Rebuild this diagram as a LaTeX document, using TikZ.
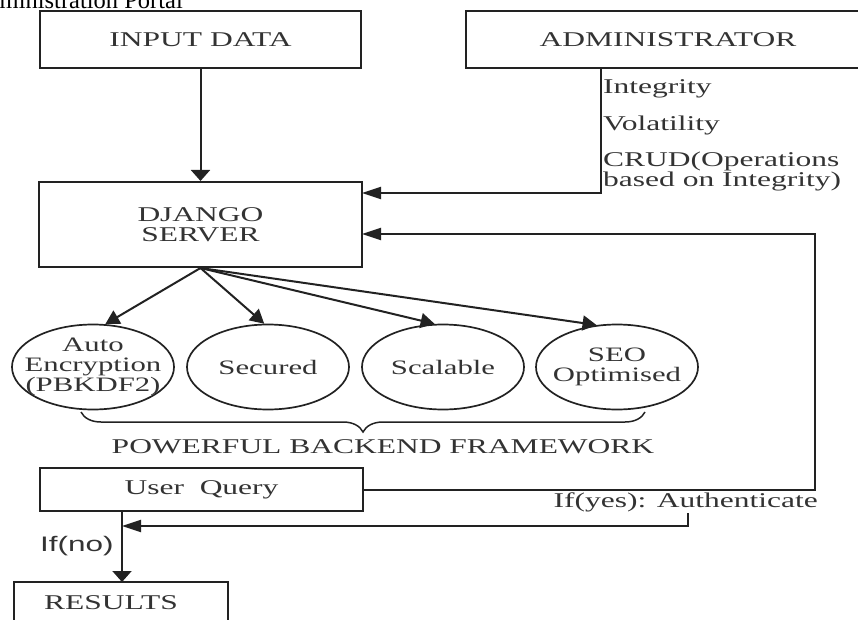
\documentclass[tikz,border=0pt]{standalone}
\usepackage{fontspec}
\setmainfont[FakeStretch=1.5]{Liberation Serif}
\newfontfamily\stsans[FakeStretch=1.5]{Liberation Sans}
\newfontfamily\plainserif{Liberation Serif}
\usetikzlibrary{shapes.geometric,arrows.meta,decorations.pathreplacing}
\definecolor{tc}{HTML}{333333}
\definecolor{lc}{HTML}{222222}
\begin{document}
\begin{tikzpicture}[x=1pt,y=-1pt,
  box/.style={draw=lc, line width=2pt, rectangle, inner sep=0pt, text=tc,
    font=\fontsize{21}{20}\selectfont, align=center},
  oval/.style={draw=lc, line width=1.7pt, ellipse, inner xsep=-30pt, inner ysep=-4pt,
    minimum width=162pt, minimum height=85pt, text=tc,
    font=\fontsize{20.5}{20}\selectfont, align=center},
  lbl/.style={text=tc, inner sep=0pt, font=\fontsize{21}{20}\selectfont},
  conn/.style={draw=lc, line width=2pt},
  arrv/.style={conn, -{Triangle[length=11pt,width=19pt]}},
  arrh/.style={conn, -{Triangle[length=19pt,width=12pt]}},
  arrd/.style={conn, -{Triangle[length=14pt,width=15pt]}}]
\useasboundingbox (0,0) rectangle (858,620);
\clip (0,0) rectangle (858,620);

\node[anchor=base east, inner sep=0pt, font=\plainserif\fontsize{24.5}{24}\selectfont] (title) at (183,9) {Administration Portal};

% boxes
\node[box, minimum width=321pt, minimum height=57pt] (inp) at (200.5,39.5) {INPUT DATA};
\node[box, minimum width=404pt, minimum height=57pt] (adm) at (668,39.5) {ADMINISTRATOR};
\node[box, minimum width=323pt, minimum height=85pt] (dj) at (200.5,224.5) {DJANGO\\SERVER};
\node[box, minimum width=323pt, minimum height=43pt] (uq) at (201.5,489.5) {User\ \ Query};
\node[box, minimum width=214pt, minimum height=60pt] (res) at (121,612) {};
\node[lbl, anchor=base] (restext) at (111,609) {RESULTS};

% ellipses
\node[oval] (e1) at (93,367) {Auto\\Encryption\\(PBKDF2)};
\node[oval] (e2) at (268,367) {Secured};
\node[oval] (e3) at (443,367) {Scalable};
\node[oval] (e4) at (617,367) {SEO\\Optimised};

% admin labels
\node[lbl, anchor=base west] (integ) at (603,94) {Integrity};
\node[lbl, anchor=base west] (volat) at (603,131) {Volatility};
\node[lbl, anchor=base west, align=left] (crud) at (603,187) {CRUD(Operations\\based on Integrity)};

% labels
\node[lbl, anchor=base] (pbf) at (383,453) {POWERFUL BACKEND FRAMEWORK};
\node[lbl, anchor=base east] (yes) at (818,507) {If(yes): Authenticate};
\node[lbl, anchor=base west, font=\stsans\fontsize{21}{20}\selectfont] (no) at (40,551) {If(no)};

% coordinates
\coordinate (a1) at (601,68);
\coordinate (dje1) at (362,193);
\coordinate (loopc) at (815,234);
\coordinate (dje2) at (362,234);
\coordinate (au) at (688,513);
\coordinate (q1) at (122,526);
\coordinate (q0) at (122,511);
\coordinate (r0) at (122,582);
\coordinate (b1) at (81,412);
\coordinate (b2) at (645,412);

% connectors
\draw[arrv] (inp.south) -- (dj.north);
\draw[arrh] (a1) |- (dje1);
\draw[arrh] (uq.east) -| (loopc) -- (dje2);
\draw[arrh] (au) |- (q1);
\draw[arrv] (q0) -- (r0);

\draw[arrd] (dj.south) -- (e1.74);
\draw[arrd] (dj.south) -- (e2.95);
\draw[arrd] (dj.south) -- (e3.101);
\draw[arrd] (dj.south) -- (e4.116);

\draw[draw=lc, line width=1.5pt, decorate, decoration={brace, mirror, amplitude=20pt}] (b1) -- (b2);
\end{tikzpicture}
\end{document}
